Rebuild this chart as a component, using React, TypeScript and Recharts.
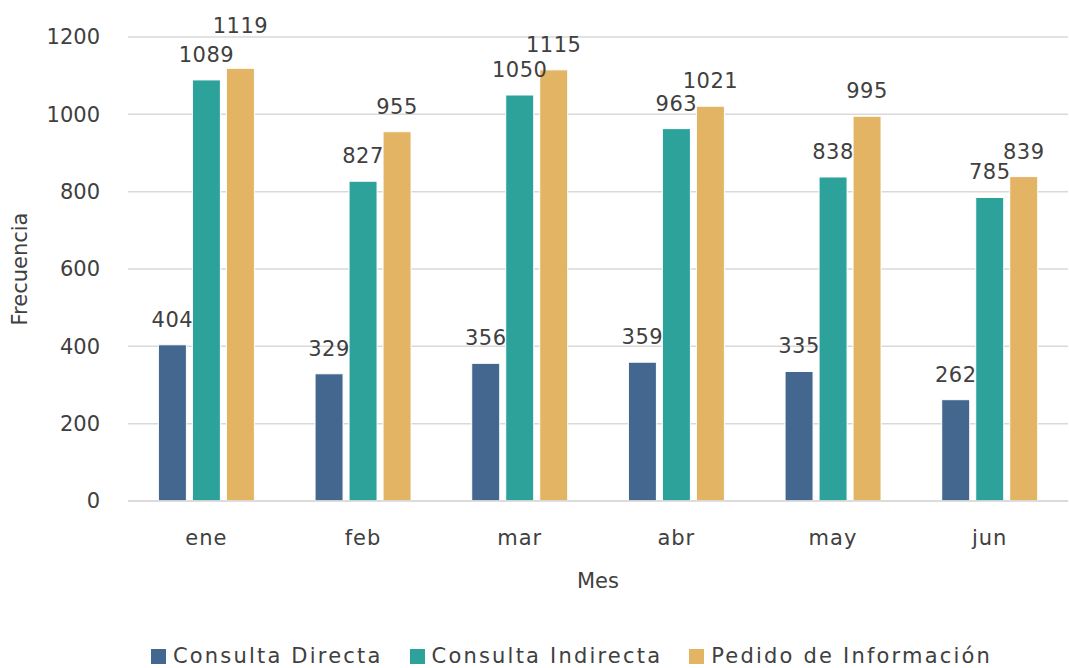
import { Bar, BarChart, CartesianGrid, XAxis, YAxis, Legend, LabelList } from "recharts";

const months = ["ene", "feb", "mar", "abr", "may", "jun"];
const consultaDirecta = [404, 329, 356, 359, 335, 262];
const consultaIndirecta = [1089, 827, 1050, 963, 838, 785];
const pedidoInformacion = [1119, 955, 1115, 1021, 995, 839];
const yTicks = [0, 200, 400, 600, 800, 1000, 1200];

const seriesInfo = [
    { key: "directa", name: "Consulta Directa", color: "#44678F" },
    { key: "indirecta", name: "Consulta Indirecta", color: "#2CA29A" },
    { key: "pedido", name: "Pedido de Información", color: "#E2B464" },
];

const data = months.map((m, i) => ({
    mes: m,
    directa: consultaDirecta[i],
    indirecta: consultaIndirecta[i],
    pedido: pedidoInformacion[i],
}));

const FONT = "'DejaVu Sans', sans-serif";
const TEXT = "#404040";

// nudges a label up when it would collide with the label of the bar before it
function makeLabel(prevKey: string | null) {
    return (props: any) => {
        const { x, y, width, value, index } = props;
        let lift = 0;
        if (prevKey) {
            const prev = (data[index] as any)[prevKey];
            if (Math.abs(value - prev) < 40) lift = 17;
        }
        return (
            <text
                x={x + width / 2}
                y={y - 18 - lift}
                textAnchor="middle"
                fontSize={21}
                fill={TEXT}
                fontFamily={FONT}
                letterSpacing={0.5}
            >
                {value}
            </text>
        );
    };
}

function LegendContent() {
    return (
        <div
            style={{
                height: 67,
                display: "flex",
                alignItems: "flex-end",
                justifyContent: "center",
                paddingLeft: 74,
                boxSizing: "border-box",
                fontFamily: FONT,
                fontSize: 21,
                color: TEXT,
            }}
        >
            {seriesInfo.map((s, i) => (
                <div key={s.key} style={{ display: "flex", alignItems: "center", marginLeft: i === 0 ? 0 : 27 }}>
                    <span style={{ width: 15, height: 15, background: s.color, display: "inline-block", marginRight: 7 }} />
                    <span style={{ letterSpacing: 2.2 }}>{s.name}</span>
                </div>
            ))}
        </div>
    );
}

export default function App() {
    return (
        <div style={{ position: "absolute", left: 0, top: 0, background: "#fff" }}>
            <BarChart
                width={1069}
                height={668}
                data={data}
                margin={{ top: 37, right: 1, left: 0, bottom: 0 }}
                barCategoryGap="19.4%"
                barGap={6}
            >
                <CartesianGrid vertical={false} stroke="#D9D9D9" strokeWidth={1.5} />
                <XAxis
                    dataKey="mes"
                    height={100}
                    axisLine={{ stroke: "#D9D9D9", strokeWidth: 1.5 }}
                    tickLine={false}
                    tickMargin={23}
                    tick={{ fontSize: 21, fill: TEXT, fontFamily: FONT, letterSpacing: 1 }}
                    label={{ value: "Mes", position: "insideBottom", offset: 13, fontSize: 21, fill: TEXT, fontFamily: FONT }}
                />
                <YAxis
                    width={128}
                    domain={[0, 1200]}
                    ticks={yTicks}
                    axisLine={false}
                    tickLine={false}
                    tickMargin={22}
                    tick={{ fontSize: 21, fill: TEXT, fontFamily: FONT }}
                    label={{ value: "Frecuencia", angle: -90, position: "insideLeft", offset: 20, fontSize: 21, fill: TEXT, fontFamily: FONT, style: { textAnchor: "middle" } }}
                />
                <Legend verticalAlign="bottom" content={<LegendContent />} wrapperStyle={{ left: 0, width: 1069, bottom: 0 }} />
                {seriesInfo.map((s, i) => (
                    <Bar key={s.key} dataKey={s.key} name={s.name} fill={s.color} stroke="#fff" strokeWidth={1} isAnimationActive={false}>
                        <LabelList dataKey={s.key} content={makeLabel(i > 0 ? seriesInfo[i - 1].key : null)} />
                    </Bar>
                ))}
            </BarChart>
        </div>
    );
}
